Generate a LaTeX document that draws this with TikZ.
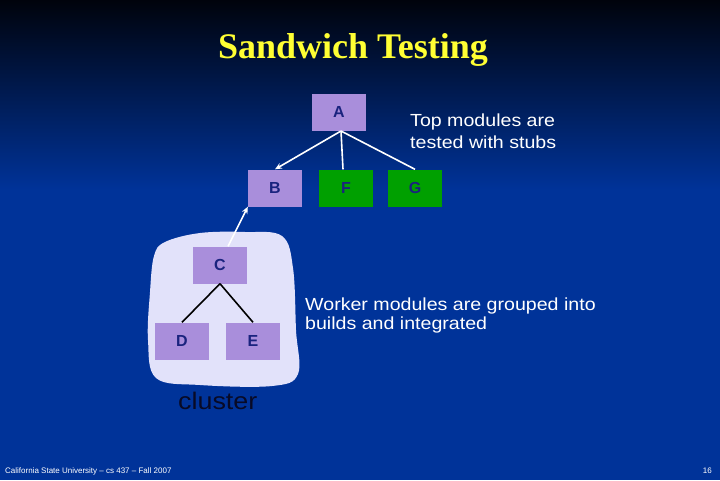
\documentclass[tikz,border=0pt]{standalone}
\usepackage{fontspec}
\usetikzlibrary{arrows.meta}
\setmainfont{Liberation Sans}
\newfontfamily\widefont[FakeStretch=1.12]{Liberation Sans}
\newfontfamily\titlefont{Liberation Serif}
\definecolor{bgblue}{HTML}{003399}
\definecolor{bgtop}{HTML}{00030C}
\definecolor{lav}{HTML}{A98EDB}
\definecolor{grn}{HTML}{00A000}
\definecolor{navy}{HTML}{1A237E}
\definecolor{blob}{HTML}{E2E2FA}
\definecolor{ttl}{HTML}{FFFF33}
\begin{document}
\begin{tikzpicture}[x=1pt,y=-1pt,
  modbox/.style={minimum width=54pt,minimum height=37pt,inner sep=0pt,font=\fontsize{16}{16}\selectfont\bfseries,text=navy},
  lavbox/.style={modbox,fill=lav},
  grnbox/.style={modbox,fill=grn},
  note/.style={text=white,align=left,anchor=north west,font=\widefont\fontsize{17.5}{21.5}\selectfont,inner sep=0pt},
  wline/.style={white,line width=1.6pt},
  bline/.style={black,line width=1.6pt}]
\useasboundingbox (0,0) rectangle (720,480);
\fill[bgblue] (0,0) rectangle (720,480);
\shade[top color=bgtop,bottom color=bgblue] (0,0) rectangle (720,190);
% title
\node[text=ttl,font=\titlefont\fontsize{36}{36}\selectfont\bfseries] (title) at (353,50) {Sandwich Testing};
% cluster blob
\fill[blob] plot[smooth cycle,tension=0.6] coordinates {(165,242) (200,233) (245,232) (282,236) (293,268) (296,330) (298,374) (272,386) (200,385) (156,378) (148,340) (150,292) (154,256)};
% boxes
\node[lavbox] (A) at (339,112) {A};
\node[lavbox] (B) at (275,188) {B};
\node[grnbox] (F) at (346,188) {F};
\node[grnbox] (G) at (415,188) {G};
\node[lavbox] (C) at (220,265) {C};
\node[lavbox] (D) at (182,341) {D};
\node[lavbox] (E) at (253,341) {E};
% connectors
\coordinate (Abot) at (341,131);
\draw[wline,-{Stealth[length=7pt,width=6pt]}] (Abot) -- (B.north);
\draw[wline] (Abot) -- ([xshift=-3pt]F.north);
\draw[wline] (Abot) -- (G.north);
\draw[wline,-{Stealth[length=7pt,width=6pt]}] ([xshift=8pt]C.north) -- (B.south west);
\draw[bline] (C.south) -- (D.north);
\draw[bline] (C.south) -- (E.north);
% notes
\node[note] (n1) at (410,114) {Top modules are\\tested with stubs};
\node[note,font=\widefont\fontsize{17.5}{19}\selectfont] (n2) at (305,298) {Worker modules are grouped into\\builds and integrated};
\node[text=navy!30!black,font=\widefont\fontsize{24}{24}\selectfont,anchor=north west,inner sep=0pt] (cl) at (178,392) {cluster};
% footer
\node[text=white,font=\fontsize{8}{8}\selectfont,anchor=west,inner sep=0pt] (ft) at (5,471) {California State University -- cs 437 -- Fall 2007};
\node[text=white,font=\fontsize{8}{8}\selectfont,anchor=east,inner sep=0pt] (pg) at (712,471) {16};
\end{tikzpicture}
\end{document}
